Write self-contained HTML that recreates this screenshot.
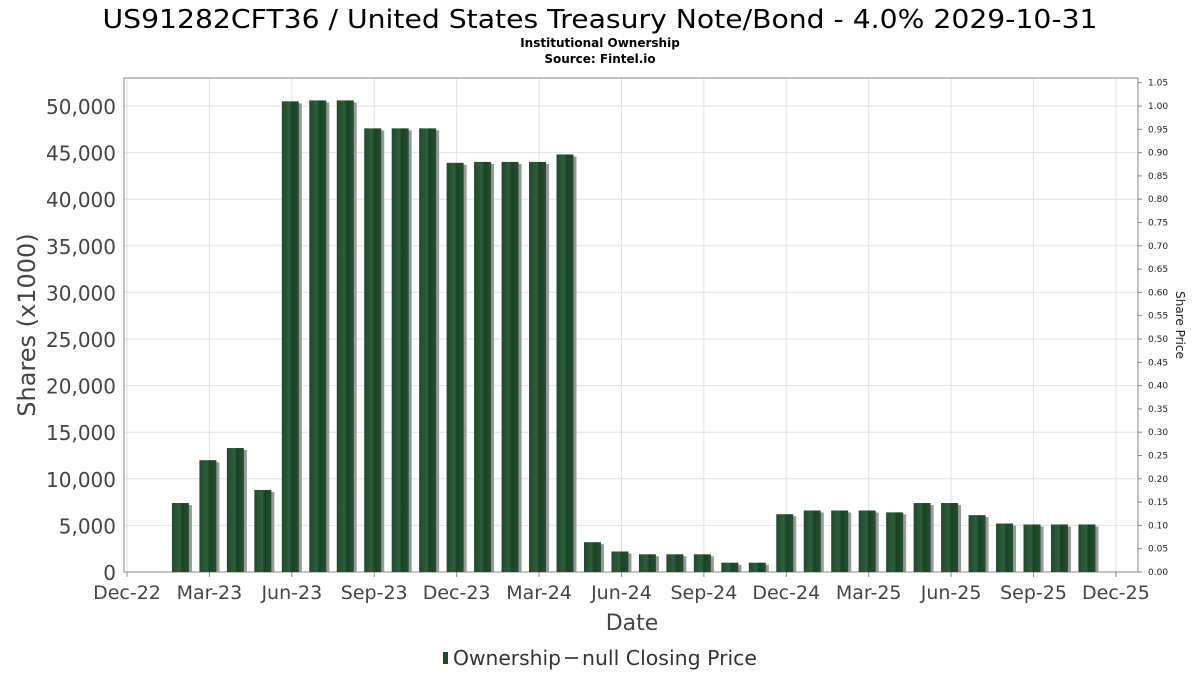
<!DOCTYPE html>
<html><head><meta charset="utf-8"><style>
body{margin:0;background:#fff;font-family:"DejaVu Sans","Liberation Sans",sans-serif;}
</style></head><body>
<svg width="1200" height="675" viewBox="0 0 1200 675" xmlns="http://www.w3.org/2000/svg">
<defs>
<linearGradient id="bg" x1="0" x2="1" y1="0" y2="0">
<stop offset="0" stop-color="#1f4a2c"/><stop offset="0.45" stop-color="#2e5e3a"/><stop offset="0.6" stop-color="#1a4226"/><stop offset="1" stop-color="#24502f"/>
</linearGradient>
</defs>
<text x="600" y="28" text-anchor="middle" font-size="26" textLength="995" lengthAdjust="spacingAndGlyphs" fill="#000">US91282CFT36 / United States Treasury Note/Bond - 4.0% 2029-10-31</text>
<text x="600" y="47" text-anchor="middle" font-size="12" font-weight="bold">Institutional Ownership</text>
<text x="600" y="63" text-anchor="middle" font-size="12" font-weight="bold">Source: Fintel.io</text>
<g id="grid"></g>
<rect x="124" y="78" width="1014" height="494" fill="none" stroke="#888"/>
<g id="bars"></g>
<g id="axes"></g>
<text transform="translate(35,325) rotate(-90)" text-anchor="middle" font-size="24" fill="#444">Shares (x1000)</text>
<text transform="translate(1176,325) rotate(90)" text-anchor="middle" font-size="12" fill="#222">Share Price</text>
<text x="632" y="630" text-anchor="middle" font-size="22" fill="#444">Date</text>
<g>
<rect x="443" y="652" width="5" height="12" fill="#1f4a2c"/>
<text x="453" y="665" font-size="20" textLength="108" lengthAdjust="spacingAndGlyphs" fill="#333">Ownership</text>
<line x1="565" y1="658" x2="578" y2="658" stroke="#555" stroke-width="2"/>
<text x="582" y="665" font-size="20" textLength="175" lengthAdjust="spacingAndGlyphs" fill="#333">null Closing Price</text>
</g>
</svg>
<script>
const xTickLabels=["Dec-22","Mar-23","Jun-23","Sep-23","Dec-23","Mar-24","Jun-24","Sep-24","Dec-24","Mar-25","Jun-25","Sep-25","Dec-25"];
const yTicks=[0,5000,10000,15000,20000,25000,30000,35000,40000,45000,50000];
const y2Ticks=[0,0.05,0.1,0.15,0.2,0.25,0.3,0.35,0.4,0.45,0.5,0.55,0.6,0.65,0.7,0.75,0.8,0.85,0.9,0.95,1.0,1.05];
const monthIndex=[2,3,4,5,6,7,8,9,10,11,12,13,14,15,16,17,18,19,20,21,22,23,24,25,26,27,28,29,30,31,32,33,34,35];
const shares=[7400,12000,13300,8800,50500,50600,50600,47600,47600,47600,43900,44000,44000,44000,44800,3200,2200,1900,1900,1900,1000,1000,6200,6600,6600,6600,6400,7400,7400,6100,5200,5100,5100,5100];
const NS="http://www.w3.org/2000/svg";
const x0=127,mw=27.47,yb=572,yScale=466/50000;
const X=m=>x0+m*mw, Y=v=>yb-v*yScale, Y2=p=>yb-p*(yb-106)/1.0;
function mk(t,a,p){const e=document.createElementNS(NS,t);for(const k in a)e.setAttribute(k,a[k]);p.appendChild(e);return e;}
const grid=document.getElementById('grid'),axes=document.getElementById('axes'),bars=document.getElementById('bars');
yTicks.forEach(v=>{
 const l=mk('line',{x1:124,x2:1138,y1:Y(v),y2:Y(v),stroke:'#e2e2e2'},grid);
 
 
 const t=mk('text',{x:116,y:Y(v)+8,'text-anchor':'end','font-size':20,fill:'#444'},axes);
 t.textContent=v.toLocaleString('en-US');
 
 
});
xTickLabels.forEach((s,i)=>{
 const x=X(i*3);
 const l=mk('line',{x1:x,x2:x,y1:78,y2:572,stroke:'#e2e2e2'},grid);
 
 
 mk('line',{x1:x,x2:x,y1:572,y2:577,stroke:'#888'},axes);
 const t=mk('text',{x:x,y:599,'text-anchor':'middle','font-size':19,fill:'#444'},axes);
 t.textContent=s;
 
 
});
y2Ticks.forEach(p=>{
 mk('line',{x1:1138,x2:1142,y1:Y2(p),y2:Y2(p),stroke:'#888'},axes);
 const t=mk('text',{x:1148,y:Y2(p)+3,'font-size':9,fill:'#222'},axes);
 t.textContent=p.toFixed(2);
 
 
});
shares.forEach((v,i)=>{
 const cx=X(monthIndex[i]);
 const s=mk('rect',{x:cx-8,y:Y(v)+2,width:18,height:yb-Y(v)-2,fill:'#999'},bars);
 
 
 const b=mk('rect',{x:cx-10,y:Y(v),width:17,height:yb-Y(v),fill:'url(#bg)'},bars);
 
 
});
</script>
</body></html>
